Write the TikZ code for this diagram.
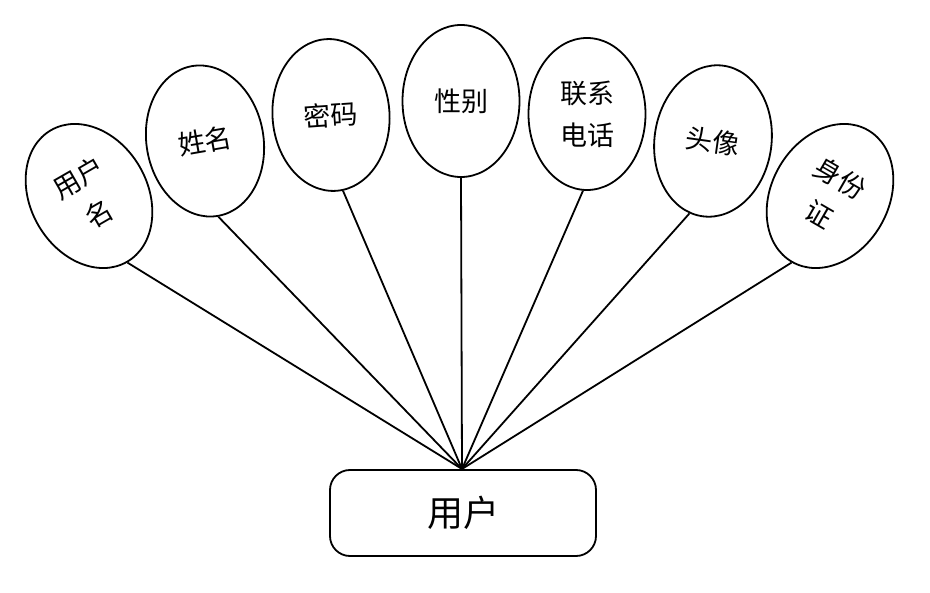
\documentclass[tikz,border=0pt]{standalone}
\usepackage{fontspec}
\usetikzlibrary{shapes.geometric}
\newfontfamily\cjk{Noto Sans CJK SC}
\begin{document}
\begin{tikzpicture}[x=1pt,y=-1pt,
  attr/.style={ellipse,draw,line width=1.8pt,minimum width=117pt,minimum height=152pt,inner sep=0pt,align=center,font=\cjk\fontsize{27}{42}\selectfont},
  entity/.style={draw,line width=1.8pt,rounded corners=20pt,minimum width=266pt,minimum height=86pt,font=\cjk\fontsize{36}{40}\selectfont},
  link/.style={line width=1.8pt}]
\useasboundingbox (0,0) rectangle (930,593);
\node[entity] (u) at (463,513) {用户};
\coordinate (hub) at (462,469);
\node[attr,rotate=30] (a1) at (89,196) {用户\\名};
\node[attr,rotate=10] (a2) at (205,141) {姓名};
\node[attr,rotate=4] (a3) at (331,115) {密码};
\node[attr] (a4) at (461,101) {性别};
\node[attr] (a5) at (587,114) {联系\\电话};
\node[attr,rotate=-8] (a6) at (713,141) {头像};
\node[attr,rotate=-30] (a7) at (830,196) {身份\\证};
\draw[link] (hub) -- (a1.south);
\draw[link] (hub) -- (a2.south);
\draw[link] (hub) -- (a3.-85);
\draw[link] (hub) -- (a4.south);
\draw[link] (hub) -- (a5.-93);
\draw[link] (hub) -- (a6.-100);
\draw[link] (hub) -- (a7.south);
\end{tikzpicture}
\end{document}
